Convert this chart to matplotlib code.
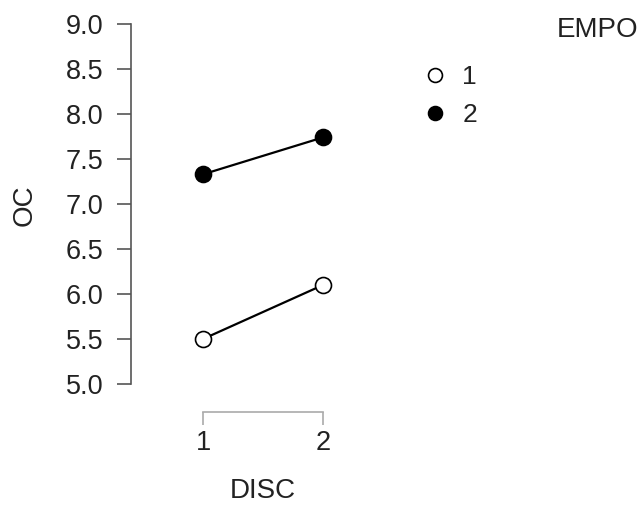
import matplotlib
matplotlib.use("Agg")
import matplotlib.pyplot as plt
from matplotlib.lines import Line2D

plt.rcParams['font.family'] = ['Liberation Sans', 'DejaVu Sans']

disc = [1, 2]
empo_levels = ['1', '2']
oc_empo1 = [5.50, 6.10]
oc_empo2 = [7.33, 7.74]
yticks = [5.0, 5.5, 6.0, 6.5, 7.0, 7.5, 8.0, 8.5, 9.0]

W, H = 643, 505
fig = plt.figure(figsize=(W / 100, H / 100), dpi=100)
left_px, right_px, top_px, bot_px = 131, 343, 24, 384
ax = fig.add_axes([left_px / W, 1 - bot_px / H, (right_px - left_px) / W, (bot_px - top_px) / H])
ax.set_xlim(1 - 72 / 120, 1 + (right_px - 203) / 120)
ax.set_ylim(5.0, 9.0)

ax.plot(disc, oc_empo1, color='black', lw=1.6, marker='o', ms=11.5,
        mfc='white', mec='black', mew=1.2, zorder=3, clip_on=False)
ax.plot(disc, oc_empo2, color='black', lw=1.6, marker='o', ms=11.5,
        mfc='black', mec='black', mew=1.2, zorder=3, clip_on=False)

for s in ['top', 'right']:
    ax.spines[s].set_visible(False)
ax.spines['left'].set_bounds(5.0, 9.0)
ax.spines['left'].set_color('#555555')
ax.spines['left'].set_linewidth(1.2)
ax.spines['bottom'].set_position(('outward', 20))
ax.spines['bottom'].set_bounds(1, 2)
ax.spines['bottom'].set_color('#aaaaaa')
ax.spines['bottom'].set_linewidth(1.2)

ax.set_yticks(yticks)
ax.set_yticklabels([f"{v:.1f}" for v in yticks])
ax.set_xticks(disc)
ax.set_xticklabels([str(d) for d in disc])
ax.tick_params(axis='y', length=10, width=1.2, color='#555555', pad=10, labelsize=19.5, labelcolor='#222222')
ax.tick_params(axis='x', direction='out', length=9, width=1.2, color='#aaaaaa', pad=4, labelsize=19.5, labelcolor='#222222')

fig.text(25 / W, 1 - 205 / H, 'OC', fontsize=20, color='#222222', rotation=90, ha='center', va='center')
fig.text(263 / W, 1 - 491 / H, 'DISC', fontsize=20, color='#222222', ha='center', va='center')

fig.text(598 / W, 1 - 30 / H, 'EMPO', fontsize=20, color='#222222', ha='center', va='center')
handles = [
    Line2D([], [], ls='none', marker='o', ms=10, mfc='white', mec='black', mew=1.2),
    Line2D([], [], ls='none', marker='o', ms=10, mfc='black', mec='black', mew=1.2),
]
leg = fig.legend(handles, empo_levels, loc='upper left', bbox_to_anchor=(422 / W, 1 - 65 / H),
                 frameon=False, fontsize=19, handlelength=1.0, handletextpad=0.53,
                 labelspacing=0.53, borderaxespad=0, borderpad=0)
for t in leg.get_texts():
    t.set_color('#222222')

fig.savefig('out.png', dpi=100)
